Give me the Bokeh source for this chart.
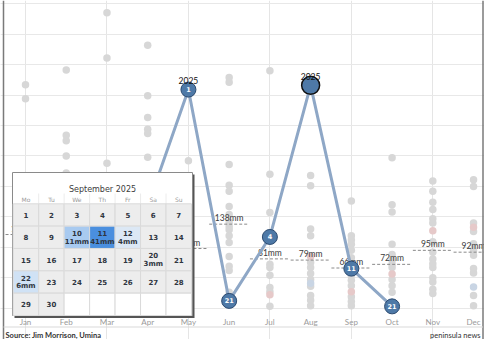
import calendar
from bokeh.plotting import figure
from bokeh.models import Range1d, Grid, FixedTicker
from bokeh.core.properties import value
from bokeh.embed import file_html
from bokeh.resources import INLINE

# ---------------- data ----------------
months = ["Jan", "Feb", "Mar", "Apr", "May", "Jun", "Jul", "Aug", "Sep", "Oct", "Nov", "Dec"]

# historic monthly totals (mm), one dot per year (visible ones)
hist_jan = [367, 344]
hist_feb = [391, 284, 275, 250, 222]
hist_mar = [485, 411, 238]
hist_apr = [432, 349, 313, 294, 287, 248]
hist_may = [242]
hist_jun = [379, 371, 236, 202, 192, 167, 154, 141, 134, 129, 119, 108, 85, 69, 62, 26]
hist_jul = [390, 220, 157, 72, 67, 54, 34, 27, 3]
hist_aug = [218, 201, 130, 119, 75, 67, 57, 47, 36, 21, 13, 4]
hist_sep = [176, 119, 112, 105, 95, 83, 54, 46, 37, 19, 11, 4]
hist_oct = [247, 170, 158, 105, 88, 79, 72, 67, 47, 37, 26]
hist_nov = [209, 192, 174, 162, 147, 140, 109, 92, 81, 73, 67, 50, 43, 31, 24]
hist_dec = [211, 200, 140, 126, 106, 95, 87, 65, 58, 21, 4]
hist_all = [hist_jan, hist_feb, hist_mar, hist_apr, hist_may, hist_jun,
            hist_jul, hist_aug, hist_sep, hist_oct, hist_nov, hist_dec]

pink_months = ["Jul", "Aug", "Sep", "Oct", "Nov", "Dec"]
pink_mm = [22, 85, 27, 56, 127, 133]
blue_months = ["Aug", "Dec"]
blue_mm = [41, 35]

# long-term monthly averages (visible ones)
avg_months = ["Jan", "May", "Jun", "Jul", "Aug", "Sep", "Oct", "Nov", "Dec"]
avg_mm = [121, 98, 138, 81, 79, 66, 72, 95, 92]

# 2025 monthly totals and rank
y25_months = ["Apr", "May", "Jun", "Jul", "Aug", "Sep", "Oct"]
y25_mm = [168, 359, 12, 117, 366, 65, 3]
y25_rank = ["", "1", "21", "4", "", "11", "21"]
y25_tagged = ["May", "Aug"]
y25_selected = "Aug"

# September 2025 daily rain
cal_year, cal_month = 2025, 9
rain_days = [10, 11, 12, 20, 22]
rain_mm = [11, 41, 4, 3, 6]
weekday_names = ["Mo", "Tu", "We", "Th", "Fr", "Sa", "Su"]

source_text = "Source: Jim Morrison, Umina"
brand_text = "peninsula news"

# ---------------- figure ----------------
W, H = 484, 339
idx = {m: i for i, m in enumerate(months)}

p = figure(width=W, height=H,
           x_range=Range1d(-0.6138, 11.269), y_range=Range1d(-51.4, 505.3),
           x_axis_location=None, y_axis_location=None,
           min_border=0, output_backend="svg", toolbar_location=None)
p.outline_line_color = None
p.background_fill_color = "white"
p.border_fill_color = "white"
# pixel-space ranges for the overlay / frame pieces (y grows downward)
p.extra_x_ranges = {"px": Range1d(0, W)}
p.extra_y_ranges = {"px": Range1d(H, 0)}

p.add_layout(Grid(dimension=1, ticker=FixedTicker(ticks=list(range(0, 501, 50))),
                  grid_line_color="#e8e8e8", grid_line_width=1))

FONT = value("Lato")
CAL_FONT = value("DejaVu Sans")

# historic dots
hx, hy = [], []
for i, vals in enumerate(hist_all):
    for v in vals:
        hx.append(i)
        hy.append(v)
p.scatter(hx, hy, size=7.5, fill_color="#d7d7d7", line_color=None)
p.scatter([idx[m] for m in pink_months], pink_mm, size=7.5, fill_color="#e6c9c9", line_color=None)
p.scatter([idx[m] for m in blue_months], blue_mm, size=7.5, fill_color="#c9d5e4", line_color=None)

# averages
ax = [idx[m] for m in avg_months]
p.segment(x0=[x - 0.49 for x in ax], x1=[x + 0.49 for x in ax], y0=avg_mm, y1=avg_mm,
          line_color="#8a8a8a", line_width=1, line_dash="3 2")
p.text(x=ax, y=avg_mm, text=[f"{v}mm" for v in avg_mm], y_offset=-1,
       text_align="center", text_baseline="bottom", text_font=FONT,
       text_font_size="8.5px", text_color="#3a3a3a")

# 2025 line
x25 = [idx[m] for m in y25_months]
p.line(x25, y25_mm, line_color="#8ea7c6", line_width=3)
norm = [i for i, m in enumerate(y25_months) if m != y25_selected]
p.scatter([x25[i] for i in norm], [y25_mm[i] for i in norm], size=15,
          fill_color="#4e79a7", line_color="#2b4a70", line_width=1)
sel = y25_months.index(y25_selected)
p.scatter([x25[sel]], [y25_mm[sel]], size=18, fill_color="#4e79a7",
          line_color="#111111", line_width=1.5)
p.text(x=x25, y=y25_mm, text=y25_rank, text_align="center", text_baseline="middle",
       text_font=CAL_FONT, text_font_size="6.5px", text_font_style="bold", text_color="white")
tx = [idx[m] for m in y25_tagged]
ty = [y25_mm[y25_months.index(m)] for m in y25_tagged]
p.text(x=tx, y=ty, text=["2025"] * len(tx), y_offset=-9, text_align="center",
       text_baseline="middle", text_font=FONT, text_font_size="8.5px", text_color="#111111")

# month labels
p.text(x=list(range(12)), y=[321] * 12, y_range_name="px", text=months,
       text_align="center", text_baseline="middle", text_font=FONT,
       text_font_size="8px", text_color="#9a9a9a")

# frame lines, footer
p.segment(x0=[3, 482.5], x1=[3, 482.5], y0=[0, 0], y1=[H, H], x_range_name="px",
          y_range_name="px", line_color="#7a7a7a", line_width=1.5)
p.segment(x0=[3], x1=[482.5], y0=[326.5], y1=[326.5], x_range_name="px", y_range_name="px",
          line_color="#d9d9d9", line_width=1)
p.text(x=[5], y=[334.5], x_range_name="px", y_range_name="px", text=[source_text],
       text_align="left", text_baseline="alphabetic", text_font=FONT,
       text_font_size="7.5px", text_font_style="bold", text_color="#333333")
p.text(x=[480], y=[334.5], x_range_name="px", y_range_name="px", text=[brand_text],
       text_align="right", text_baseline="alphabetic", text_font=FONT,
       text_font_size="7.5px", text_color="#333333")

# ---------------- calendar overlay (pixel coordinates) ----------------
box_l, box_r, box_t, box_b = 12, 192, 172, 315
p.quad(left=[box_l + 2], right=[box_r + 2], top=[box_t + 2], bottom=[box_b + 2.5],
       x_range_name="px", y_range_name="px", fill_color="#555555", line_color=None)
p.quad(left=[box_l], right=[box_r], top=[box_t], bottom=[box_b],
       x_range_name="px", y_range_name="px", fill_color="white", line_color="#8a8a8a", line_width=1)
p.text(x=[102], y=[188.5], x_range_name="px", y_range_name="px",
       text=[f"{calendar.month_name[cal_month]} {cal_year}"],
       text_align="center", text_baseline="middle", text_font=CAL_FONT,
       text_font_size="8px", text_color="#3c3c3c")

col0, cw = 12.7, 25.47
row0, rh = 203.3, 22.34
ccx = [col0 + cw * (c + 0.5) for c in range(7)]
p.segment(x0=[col0 + cw * c for c in range(1, 7)], x1=[col0 + cw * c for c in range(1, 7)],
          y0=[193] * 6, y1=[row0] * 6, x_range_name="px", y_range_name="px",
          line_color="#ececec", line_width=1)
p.text(x=ccx, y=[198.5] * 7, x_range_name="px", y_range_name="px", text=weekday_names,
       text_align="center", text_baseline="middle", text_font=CAL_FONT,
       text_font_size="6px", text_color="#9a9a9a")


def cell_color(mm):
    if mm >= 30:
        return "#4a8fdf"
    if mm >= 10:
        return "#a8caf0"
    if mm >= 5:
        return "#d0e2f5"
    if mm >= 4:
        return "#dce8f5"
    return "#ededed"


rain = dict(zip(rain_days, rain_mm))
weeks = calendar.monthcalendar(cal_year, cal_month)
L, R, T, B, F = [], [], [], [], []
t1x, t1y, t1 = [], [], []
for r, week in enumerate(weeks):
    for c, d in enumerate(week):
        L.append(col0 + cw * c)
        R.append(col0 + cw * (c + 1))
        T.append(row0 + rh * r)
        B.append(row0 + rh * (r + 1))
        cx = col0 + cw * (c + 0.5)
        cy = row0 + rh * (r + 0.5)
        if d == 0:
            F.append("white")
            continue
        if d in rain:
            F.append(cell_color(rain[d]))
            t1x.append(cx); t1y.append(cy - 4.3); t1.append(str(d))
            t1x.append(cx); t1y.append(cy + 4.3); t1.append(f"{rain[d]}mm")
        else:
            F.append("#ededed")
            t1x.append(cx); t1y.append(cy); t1.append(str(d))
p.quad(left=L, right=R, top=T, bottom=B, x_range_name="px", y_range_name="px",
       fill_color=F, line_color="#dadada", line_width=1)
p.text(x=t1x, y=t1y, text=t1, x_range_name="px", y_range_name="px",
       text_align="center", text_baseline="middle", text_font=CAL_FONT,
       text_font_size="7px", text_font_style="bold", text_color="#2f3540")

open("out.html", "w").write(file_html(p, INLINE))
